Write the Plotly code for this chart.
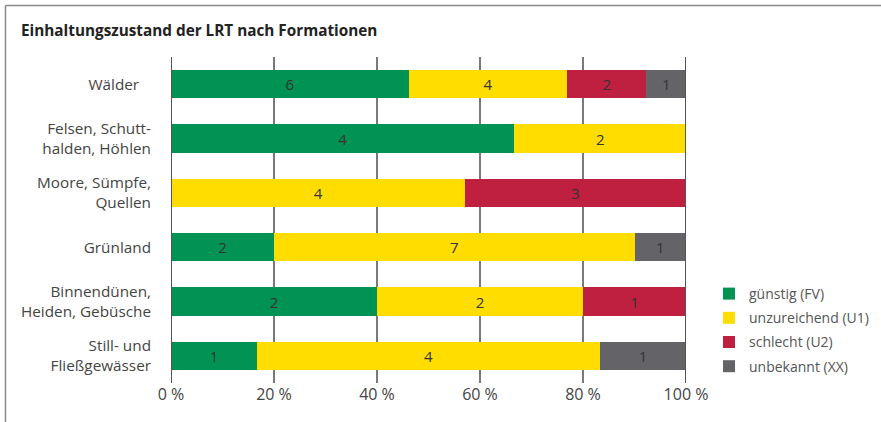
import plotly.graph_objects as go

categories = ["Wälder\u00a0\u00a0\u00a0", "Felsen, Schutt-<br>halden, Höhlen", "Moore, Sümpfe,<br>Quellen",
              "Grünland", "Binnendünen,<br>Heiden, Gebüsche", "Still- und<br>Fließgewässer"]
series_names = ["günstig (FV)", "unzureichend (U1)", "schlecht (U2)", "unbekannt (XX)"]
fv = [6, 4, 0, 2, 2, 1]
u1 = [4, 2, 4, 7, 2, 4]
u2 = [2, 0, 3, 0, 1, 0]
xx = [1, 0, 0, 1, 0, 1]
colors = ["#009354", "#FFDD00", "#C0203F", "#646368"]
tick_vals = [0, 20, 40, 60, 80, 100]
tick_text = ["0 %", "20 %", "40 %", "60 %", "80 %", "100 %"]
title = "Einhaltungszustand der LRT nach Formationen"

series = [fv, u1, u2, xx]
totals = [sum(s[i] for s in series) for i in range(len(categories))]

font_family = "Open Sans, Noto Sans, sans-serif"
fig = go.Figure()
for k, (name, vals, col) in enumerate(zip(series_names, series, colors)):
    pct = [v / t * 100 for v, t in zip(vals, totals)]
    fig.add_trace(go.Bar(
        y=categories, x=pct, name=name, orientation="h",
        legendgroup="g%d" % k,
        marker=dict(color=col, line=dict(width=0)),
        text=[str(v) if v else "" for v in vals],
        textposition="inside", insidetextanchor="middle",
        textfont=dict(size=15, color="#333333", family=font_family),
        hoverinfo="skip",
    ))

W, H = 881, 422
L = 171
T = 57
pw = 515
ph = 326
R = W - L - pw
B = H - T - ph


def px_x(x):  # screen x -> paper
    return (x - L) / pw


def px_y(y):  # screen y -> paper
    return (T + ph - y) / ph


fig.update_layout(
    width=W, height=H,
    margin=dict(l=L, r=R, t=T, b=B, autoexpand=False),
    barmode="stack", bargap=0.48,
    plot_bgcolor="white", paper_bgcolor="white",
    font=dict(family=font_family, size=15, color="#444444"),
    showlegend=True,
    legend=dict(x=px_x(709), y=px_y(278), xanchor="left", yanchor="top",
                traceorder="grouped", tracegroupgap=3,
                font=dict(size=14, color="#555555"),
                itemwidth=30, bgcolor="rgba(0,0,0,0)"),
    xaxis=dict(range=[0, 100], tickvals=tick_vals, ticktext=tick_text,
               showgrid=True, gridcolor="#7a7a7a", gridwidth=1.5,
               zeroline=False, showline=False, ticks="",
               tickfont=dict(size=16, color="#444444"), fixedrange=True),
    yaxis=dict(autorange="reversed", showgrid=False, ticks="",
               ticklabelstandoff=19, tickfont=dict(size=15.3, color="#444444"),
               showline=False, zeroline=False, fixedrange=True),
    annotations=[dict(text="<b>" + title + "</b>", xref="paper", yref="paper",
                      x=px_x(19), y=px_y(30), xanchor="left", yanchor="middle",
                      showarrow=False, font=dict(size=15.3, color="#222222"))],
    shapes=[
        dict(type="line", xref="paper", yref="paper", x0=px_x(5.5), x1=px_x(900),
             y0=px_y(5.5), y1=px_y(5.5), line=dict(color="#8a8a8a", width=1.5)),
        dict(type="line", xref="paper", yref="paper", x0=px_x(5.5), x1=px_x(5.5),
             y0=px_y(5.5), y1=px_y(440), line=dict(color="#8a8a8a", width=1.5)),
        dict(type="line", xref="x", yref="paper", x0=0, x1=0, y0=0, y1=1,
             line=dict(color="#555555", width=2), layer="above"),
        dict(type="line", xref="x", yref="paper", x0=100, x1=100, y0=0, y1=1,
             line=dict(color="#555555", width=2), layer="above"),
    ],
)

fig.write_html("out.html", config={"displayModeBar": False},
               post_script="document.body.style.margin='0';document.body.style.overflow='hidden';")
